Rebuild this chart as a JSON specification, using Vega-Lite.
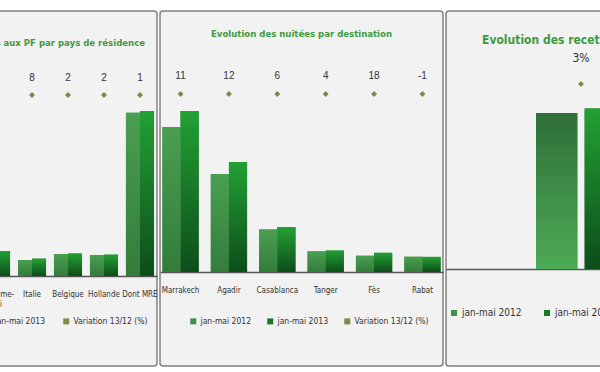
{
  "$schema": "https://vega.github.io/schema/vega-lite/v6.json",
  "background": "white",
  "padding": {"left": -108, "top": 10, "right": 0, "bottom": 0},
  "spacing": 3,
  "bounds": "flush",
  "config": {
    "font": "DejaVu Sans Condensed, Liberation Sans, sans-serif",
    "view": {"stroke": "#808080", "strokeWidth": 1.5, "fill": "#f2f2f2", "cornerRadius": 3},
    "axis": {"grid": false},
    "title": {"color": "#3f9a3f", "fontWeight": "bold", "font": "DejaVu Sans Condensed, Liberation Sans, sans-serif", "frame": "group"},
    "legend": {"orient": "none", "direction": "horizontal", "title": null, "symbolType": "square", "labelFont": "DejaVu Sans Condensed, Liberation Sans, sans-serif", "labelColor": "#333333", "columnPadding": 14, "symbolSize": 36, "labelOffset": 3}
  },
  "datasets": {
    "arr": [
      {"pays": "Royaume-Uni", "serie": "jan-mai 2012", "value": 140},
      {"pays": "Royaume-Uni", "serie": "jan-mai 2013", "value": 150},
      {"pays": "Italie", "serie": "jan-mai 2012", "value": 96},
      {"pays": "Italie", "serie": "jan-mai 2013", "value": 104},
      {"pays": "Belgique", "serie": "jan-mai 2012", "value": 132},
      {"pays": "Belgique", "serie": "jan-mai 2013", "value": 135},
      {"pays": "Hollande", "serie": "jan-mai 2012", "value": 126},
      {"pays": "Hollande", "serie": "jan-mai 2013", "value": 128},
      {"pays": "Dont MRE", "serie": "jan-mai 2012", "value": 980},
      {"pays": "Dont MRE", "serie": "jan-mai 2013", "value": 990}
    ],
    "arrVar": [
      {"pays": "Italie", "variation": 8},
      {"pays": "Belgique", "variation": 2},
      {"pays": "Hollande", "variation": 2},
      {"pays": "Dont MRE", "variation": 1}
    ],
    "nuit": [
      {"destination": "Marrakech", "serie": "jan-mai 2012", "value": 2320},
      {"destination": "Marrakech", "serie": "jan-mai 2013", "value": 2575},
      {"destination": "Agadir", "serie": "jan-mai 2012", "value": 1570},
      {"destination": "Agadir", "serie": "jan-mai 2013", "value": 1760},
      {"destination": "Casablanca", "serie": "jan-mai 2012", "value": 680},
      {"destination": "Casablanca", "serie": "jan-mai 2013", "value": 720},
      {"destination": "Tanger", "serie": "jan-mai 2012", "value": 330},
      {"destination": "Tanger", "serie": "jan-mai 2013", "value": 343},
      {"destination": "Fès", "serie": "jan-mai 2012", "value": 260},
      {"destination": "Fès", "serie": "jan-mai 2013", "value": 307},
      {"destination": "Rabat", "serie": "jan-mai 2012", "value": 245},
      {"destination": "Rabat", "serie": "jan-mai 2013", "value": 242}
    ],
    "nuitVar": [
      {"destination": "Marrakech", "variation": 11},
      {"destination": "Agadir", "variation": 12},
      {"destination": "Casablanca", "variation": 6},
      {"destination": "Tanger", "variation": 4},
      {"destination": "Fès", "variation": 18},
      {"destination": "Rabat", "variation": -1}
    ],
    "rec": [
      {"poste": "Recettes", "serie": "jan-mai 2012", "value": 20.9},
      {"poste": "Recettes", "serie": "jan-mai 2013", "value": 21.5}
    ],
    "recVar": [
      {"poste": "Recettes", "variation": "3%"}
    ]
  },
  "hconcat": [
    {
      "width": 178,
      "height": 355,
      "title": {"text": "Evolution des arrivées aux PF par pays de résidence", "anchor": "end", "dx": -12, "offset": -36, "fontSize": 9.5},
      "layer": [
        {
          "data": {"name": "arr"},
          "mark": {"type": "bar"},
          "encoding": {
            "x": {"field": "pays", "type": "nominal", "sort": null, "scale": {"paddingInner": 0.22, "paddingOuter": 0.083},
              "axis": {"orient": "bottom", "offset": -90, "title": null, "ticks": false, "domainColor": "#555555", "domainWidth": 1.5, "labelAngle": 0, "labelFontSize": 8, "labelColor": "#333333", "labelPadding": 14, "labelOverlap": false, "labelExpr": "datum.value == 'Royaume-Uni' ? ['Royaume-', 'Uni'] : datum.value"}},
            "xOffset": {"field": "serie", "type": "nominal", "scale": {"paddingInner": 0, "paddingOuter": 0}},
            "y": {"field": "value", "type": "quantitative", "scale": {"domain": [-540, 1590], "nice": false}, "axis": null},
            "color": {"field": "serie", "type": "nominal",
              "scale": {"domain": ["jan-mai 2012", "jan-mai 2013", "Variation 13/12 (%)"], "range": ["#3f9147", "#157a27", "#7b8a46"]},
              "legend": {"legendX": -75, "legendY": 306, "labelFontSize": 8.5, "columnPadding": 16}}
          }
        },
        {
          "data": {"name": "arr"},
          "mark": {"type": "bar"},
          "encoding": {
            "x": {"field": "pays", "type": "nominal", "sort": null},
            "xOffset": {"field": "serie", "type": "nominal"},
            "y": {"field": "value", "type": "quantitative"},
            "fill": {
              "condition": {"test": "datum.serie === 'jan-mai 2012'", "value": {"gradient": "linear", "x1": 0, "y1": 0, "x2": 0, "y2": 1, "stops": [{"offset": 0, "color": "#4a9f51"}, {"offset": 1, "color": "#347c3c"}]}},
              "value": {"gradient": "linear", "x1": 0, "y1": 0, "x2": 0, "y2": 1, "stops": [{"offset": 0, "color": "#23a034"}, {"offset": 1, "color": "#0d4d1a"}]}
            }
          }
        },
        {
          "data": {"name": "arrVar"},
          "mark": {"type": "text", "font": "Liberation Sans", "fontSize": 10, "color": "#333333"},
          "encoding": {
            "x": {"field": "pays", "type": "nominal", "sort": null},
            "y": {"datum": 1188, "type": "quantitative"},
            "text": {"field": "variation", "type": "nominal"}
          }
        },
        {
          "data": {"name": "arrVar"},
          "mark": {"type": "point", "shape": "diamond", "filled": true, "size": 35, "opacity": 1},
          "encoding": {
            "x": {"field": "pays", "type": "nominal", "sort": null},
            "y": {"datum": 1086, "type": "quantitative"},
            "color": {"datum": "Variation 13/12 (%)"}
          }
        }
      ]
    },
    {
      "width": 283,
      "height": 355,
      "title": {"text": "Evolution des nuitées par destination", "anchor": "middle", "offset": -27, "fontSize": 9.5},
      "layer": [
        {
          "data": {"name": "nuit"},
          "mark": {"type": "bar"},
          "encoding": {
            "x": {"field": "destination", "type": "nominal", "sort": null, "scale": {"paddingInner": 0.25, "paddingOuter": 0.05},
              "axis": {"orient": "bottom", "offset": -94, "title": null, "ticks": false, "domainColor": "#555555", "domainWidth": 1.5, "labelAngle": 0, "labelFontSize": 8, "labelColor": "#333333", "labelPadding": 14}},
            "xOffset": {"field": "serie", "type": "nominal", "scale": {"paddingInner": 0, "paddingOuter": 0}},
            "y": {"field": "value", "type": "quantitative", "scale": {"domain": [-1504, 4176], "nice": false}, "axis": null},
            "color": {"field": "serie", "type": "nominal",
              "scale": {"domain": ["jan-mai 2012", "jan-mai 2013", "Variation 13/12 (%)"], "range": ["#3f9147", "#157a27", "#7b8a46"]},
              "legend": {"legendX": 29, "legendY": 306, "labelFontSize": 8.5}}
          }
        },
        {
          "data": {"name": "nuit"},
          "mark": {"type": "bar"},
          "encoding": {
            "x": {"field": "destination", "type": "nominal", "sort": null},
            "xOffset": {"field": "serie", "type": "nominal"},
            "y": {"field": "value", "type": "quantitative"},
            "fill": {
              "condition": {"test": "datum.serie === 'jan-mai 2012'", "value": {"gradient": "linear", "x1": 0, "y1": 0, "x2": 0, "y2": 1, "stops": [{"offset": 0, "color": "#4a9f51"}, {"offset": 1, "color": "#347c3c"}]}},
              "value": {"gradient": "linear", "x1": 0, "y1": 0, "x2": 0, "y2": 1, "stops": [{"offset": 0, "color": "#23a034"}, {"offset": 1, "color": "#0d4d1a"}]}
            }
          }
        },
        {
          "data": {"name": "nuitVar"},
          "mark": {"type": "text", "font": "Liberation Sans", "fontSize": 10, "color": "#333333"},
          "encoding": {
            "x": {"field": "destination", "type": "nominal", "sort": null},
            "y": {"datum": 3136, "type": "quantitative"},
            "text": {"field": "variation", "type": "nominal"}
          }
        },
        {
          "data": {"name": "nuitVar"},
          "mark": {"type": "point", "shape": "diamond", "filled": true, "size": 35, "opacity": 1},
          "encoding": {
            "x": {"field": "destination", "type": "nominal", "sort": null},
            "y": {"datum": 2848, "type": "quantitative"},
            "color": {"datum": "Variation 13/12 (%)"}
          }
        }
      ]
    },
    {
      "width": 270,
      "height": 355,
      "title": {"text": "Evolution des recettes", "anchor": "start", "dx": 36, "offset": -36, "fontSize": 12},
      "layer": [
        {
          "data": {"name": "rec"},
          "mark": {"type": "bar"},
          "encoding": {
            "x": {"field": "poste", "type": "nominal", "sort": null, "scale": {"paddingInner": 0, "paddingOuter": 1},
              "axis": {"orient": "bottom", "offset": -97, "title": null, "ticks": false, "labels": false, "domainColor": "#555555", "domainWidth": 1.5}},
            "xOffset": {"field": "serie", "type": "nominal", "scale": {"paddingInner": 0.15, "paddingOuter": 0}},
            "y": {"field": "value", "type": "quantitative", "scale": {"domain": [-13.0, 34.57], "nice": false}, "axis": null},
            "color": {"field": "serie", "type": "nominal",
              "scale": {"domain": ["jan-mai 2012", "jan-mai 2013", "Variation 13/12 (%)"], "range": ["#3f9147", "#157a27", "#7b8a46"]},
              "legend": {"legendX": 3, "legendY": 297, "labelFontSize": 10, "columnPadding": 20}}
          }
        },
        {
          "data": {"name": "rec"},
          "mark": {"type": "bar"},
          "encoding": {
            "x": {"field": "poste", "type": "nominal", "sort": null},
            "xOffset": {"field": "serie", "type": "nominal"},
            "y": {"field": "value", "type": "quantitative"},
            "fill": {
              "condition": {"test": "datum.serie === 'jan-mai 2012'", "value": {"gradient": "linear", "x1": 0, "y1": 0, "x2": 0, "y2": 1, "stops": [{"offset": 0, "color": "#2f6f38"}, {"offset": 1, "color": "#4caa55"}]}},
              "value": {"gradient": "linear", "x1": 0, "y1": 0, "x2": 0, "y2": 1, "stops": [{"offset": 0, "color": "#23a034"}, {"offset": 1, "color": "#0d4d1a"}]}
            }
          }
        },
        {
          "data": {"name": "recVar"},
          "mark": {"type": "text", "fontSize": 12, "color": "#333333"},
          "encoding": {
            "x": {"field": "poste", "type": "nominal", "sort": null},
            "y": {"datum": 28.27, "type": "quantitative"},
            "text": {"field": "variation", "type": "nominal"}
          }
        },
        {
          "data": {"name": "recVar"},
          "mark": {"type": "point", "shape": "diamond", "filled": true, "size": 35, "opacity": 1},
          "encoding": {
            "x": {"field": "poste", "type": "nominal", "sort": null},
            "y": {"datum": 24.79, "type": "quantitative"},
            "color": {"datum": "Variation 13/12 (%)"}
          }
        }
      ]
    }
  ],
  "resolve": {"scale": {"color": "independent", "x": "independent", "y": "independent", "xOffset": "independent"}, "legend": {"color": "independent"}}
}
